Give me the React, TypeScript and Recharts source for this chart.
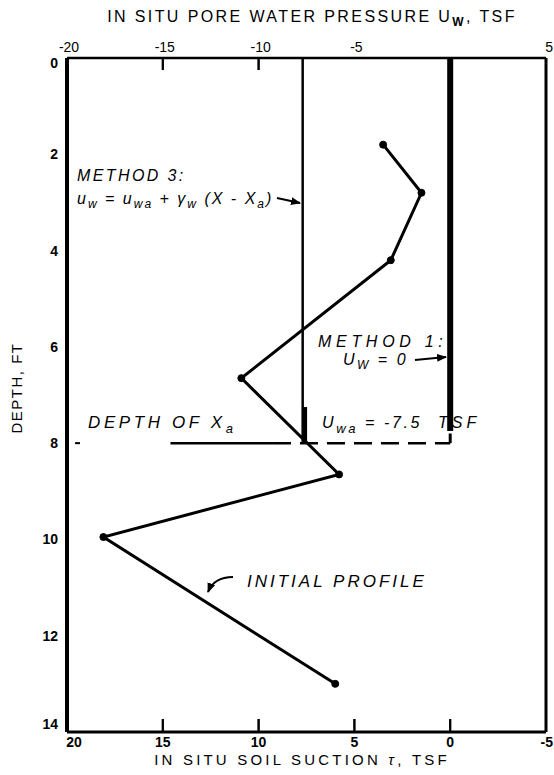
import React from 'react';
import { ComposedChart, Line, XAxis, YAxis, ReferenceLine } from 'recharts';

// ---- data ----
const depthFt = [1.8, 2.8, 4.2, 6.65, 8.65, 9.95, 13.0];
const suctionTsf = [3.5, 1.5, 3.1, 10.9, 5.8, 18.1, 6.0];
const suctionTicks = [20, 15, 10, 5, 0, -5];
const poreTicks = [-20, -15, -10, -5, 5];
const depthTicks = [0, 2, 4, 6, 8, 10, 12, 14];
const bottomInnerTickValues = [15, 10, 5, 0];
const topInnerTickValues = [-15, -10];
const method3Suction = 7.7; // u_wa = -7.5 tsf
const method3ThickSuction = 7.6;
const method1Suction = 0;
const depthXa = 8;
const method1Bottom = 7.75;
const method3ThickTop = 7.25;
const xaSolidFrom = 14.6;
const xaSolidTo = 9.25;

const data = depthFt.map((d, i) => ({ depth: d, suction: suctionTsf[i] }));

const FONT = '"Liberation Sans", Arial, Helvetica, sans-serif';

const BottomTick = (props: any) => {
  const { x, y, payload } = props;
  const v = Number(payload.value);
  const mark = bottomInnerTickValues.indexOf(v) >= 0 ? (
    <line x1={x} x2={x} y1={y - 1} y2={y - 13} stroke="#000" strokeWidth={2} />
  ) : null;
  if (v === -5) {
    return (
      <g>
        <text x={553} y={y + 15} textAnchor="end" fontFamily={FONT} fontSize={14} fontWeight="bold" fill="#000">
          {v}
        </text>
      </g>
    );
  }
  const dx = v === 20 ? 7 : 0;
  return (
    <g>
      {mark}
      <text x={x + dx} y={y + 15} textAnchor="middle" fontFamily={FONT} fontSize={14} fontWeight="bold" fill="#000">
        {v}
      </text>
    </g>
  );
};

const TopTick = (props: any) => {
  const { x, y, payload } = props;
  const v = Number(payload.value);
  const mark = topInnerTickValues.indexOf(v) >= 0 ? (
    <line x1={x} x2={x} y1={y + 1} y2={y + 12} stroke="#000" strokeWidth={2} />
  ) : null;
  if (v === 5) {
    return (
      <g>
        <text x={553} y={y - 6} textAnchor="end" fontFamily={FONT} fontSize={14} fill="#000">
          {v}
        </text>
      </g>
    );
  }
  return (
    <g>
      {mark}
      <text x={x + 2} y={y - 6} textAnchor="middle" fontFamily={FONT} fontSize={14} fill="#000">
        {v}
      </text>
    </g>
  );
};

const LeftTick = (props: any) => {
  const { x, y, payload } = props;
  const v = payload.value;
  const dy = v === 0 ? 5 : v === 14 ? -8 : 0;
  return (
    <text x={x - 9} y={y + dy + 5} textAnchor="end" fontFamily={FONT} fontSize={14} fontWeight="bold" fill="#000">
      {v}
    </text>
  );
};

const sub = { fontSize: 12 } as const;

export default function App() {
  const ann = { fontFamily: FONT, fontStyle: 'italic' as const, fill: '#000', whiteSpace: 'pre' as const };
  return (
    <div style={{ position: 'absolute', left: 0, top: 0, width: 554, height: 775, background: '#fff' }}>
      <svg width={554} height={775} style={{ position: 'absolute', left: 0, top: 0 }}>
        <defs>
          <marker id="ah" viewBox="0 0 10 10" refX="9" refY="5" markerWidth="5" markerHeight="5" orient="auto">
            <path d="M0,1 L10,5 L0,9 z" fill="#000" />
          </marker>
        </defs>
        {/* titles */}
        <text x={312} y={22} textAnchor="middle" fontFamily={FONT} fontSize={16} style={{ letterSpacing: '2.4px', whiteSpace: 'pre' }} fill="#000">
          IN SITU PORE WATER PRESSURE U<tspan fontSize={12} fontWeight="bold" dy={4}>W</tspan><tspan dy={-4}>, TSF</tspan>
        </text>
        <text x={302} y={765} textAnchor="middle" fontFamily={FONT} fontSize={15} style={{ letterSpacing: '3.2px', whiteSpace: 'pre' }} fill="#000">
          IN SITU SOIL SUCTION <tspan fontStyle="italic">τ</tspan>, TSF
        </text>
        <text x={0} y={0} transform="translate(22,388) rotate(-90)" textAnchor="middle" fontFamily={FONT} fontSize={15} style={{ letterSpacing: '1.5px' }} fill="#000">
          DEPTH, FT
        </text>

        {/* annotations */}
        <text x={77} y={181} fontSize={16} {...ann} style={{ letterSpacing: '2.4px' }}>METHOD 3:</text>
        <text x={77} y={204} fontSize={16} {...ann} style={{ letterSpacing: '2px', whiteSpace: 'pre' }}>
          u<tspan {...sub} dy={4}>w</tspan><tspan dy={-4}> = u</tspan><tspan {...sub} dy={4}>wa</tspan><tspan dy={-4}> + γ</tspan><tspan {...sub} dy={4}>w</tspan><tspan dy={-4}> (X - X</tspan><tspan {...sub} dy={4}>a</tspan><tspan dy={-4}>)</tspan>
        </text>
        <line x1={277} y1={198} x2={300} y2={203} stroke="#000" strokeWidth={2} markerEnd="url(#ah)" />

        <text x={318} y={347} fontSize={16} {...ann} style={{ letterSpacing: '4.7px' }}>METHOD 1:</text>
        <text x={343} y={365} fontSize={16} {...ann} style={{ letterSpacing: '2.5px', whiteSpace: 'pre' }}>
          U<tspan {...sub} dy={4}>W</tspan><tspan dy={-4}> = 0</tspan>
        </text>
        <line x1={415} y1={360} x2={446} y2={357} stroke="#000" strokeWidth={2} markerEnd="url(#ah)" />

        <text x={88} y={428} fontSize={17} {...ann} style={{ letterSpacing: '3.6px', whiteSpace: 'pre' }}>
          DEPTH OF X<tspan fontSize={13} dy={5}>a</tspan>
        </text>
        <text x={322} y={428} fontSize={16} {...ann} style={{ letterSpacing: '2.6px', whiteSpace: 'pre' }}>
          U<tspan fontSize={13} dy={5}>wa</tspan><tspan dy={-5}> = -7.5</tspan>
        </text>
        <text x={438} y={428} fontSize={16} {...ann} style={{ letterSpacing: '4px' }}>TSF</text>

        <text x={247} y={587} fontSize={17} {...ann} style={{ letterSpacing: '3px', whiteSpace: 'pre' }}>INITIAL PROFILE</text>
        <path d="M233,577 Q214,577 208,592" fill="none" stroke="#000" strokeWidth={2} markerEnd="url(#ah)" />
      </svg>

      <div style={{ position: 'absolute', left: 0, top: 0 }}>
        <ComposedChart width={554} height={775} layout="vertical" data={data} margin={{ top: 28, right: 8, bottom: 13, left: 27 }}>
          <XAxis
            xAxisId="b"
            type="number"
            orientation="bottom"
            dataKey="suction"
            domain={[-5, 20]}
            reversed
            ticks={suctionTicks}
            height={30}
            tickSize={0}
            tickMargin={0}
            tickLine={false}
            axisLine={{ stroke: '#000', strokeWidth: 3 }}
            tick={BottomTick}
            allowDataOverflow
          />
          <XAxis
            xAxisId="t"
            type="number"
            orientation="top"
            domain={[-20, 5]}
            ticks={poreTicks}
            height={30}
            tickSize={0}
            tickMargin={0}
            tickLine={false}
            axisLine={{ stroke: '#000', strokeWidth: 2.5 }}
            tick={TopTick}
            allowDataOverflow
          />
          <YAxis
            yAxisId="d"
            type="number"
            dataKey="depth"
            domain={[0, 14]}
            ticks={depthTicks}
            width={40}
            tickSize={0}
            tickMargin={0}
            tickLine={false}
            axisLine={{ stroke: '#000', strokeWidth: 4 }}
            tick={LeftTick}
            allowDataOverflow
          />
          {/* right border */}
          <ReferenceLine xAxisId="b" yAxisId="d" segment={[{ x: -5, y: 0 }, { x: -5, y: 14 }]} stroke="#000" strokeWidth={3} ifOverflow="visible" />
          <ReferenceLine xAxisId="b" yAxisId="d" segment={[{ x: 19.58, y: depthXa }, { x: 19.32, y: depthXa }]} stroke="#000" strokeWidth={2} ifOverflow="visible" />
          {/* inner ticks */}
          <ReferenceLine xAxisId="b" yAxisId="d" segment={[{ x: 15, y: 13.97 }, { x: 15, y: 13.73 }]} stroke="#000" strokeWidth={2} ifOverflow="visible" />
          <ReferenceLine xAxisId="b" yAxisId="d" segment={[{ x: 10, y: 13.97 }, { x: 10, y: 13.73 }]} stroke="#000" strokeWidth={2} ifOverflow="visible" />
          <ReferenceLine xAxisId="b" yAxisId="d" segment={[{ x: 5, y: 13.97 }, { x: 5, y: 13.73 }]} stroke="#000" strokeWidth={2} ifOverflow="visible" />
          <ReferenceLine xAxisId="b" yAxisId="d" segment={[{ x: 0, y: 13.97 }, { x: 0, y: 13.73 }]} stroke="#000" strokeWidth={2} ifOverflow="visible" />
          <ReferenceLine xAxisId="b" yAxisId="d" segment={[{ x: 15, y: 0.03 }, { x: 15, y: 0.25 }]} stroke="#000" strokeWidth={2} ifOverflow="visible" />
          <ReferenceLine xAxisId="b" yAxisId="d" segment={[{ x: 10, y: 0.03 }, { x: 10, y: 0.25 }]} stroke="#000" strokeWidth={2} ifOverflow="visible" />
          {/* method 3 */}
          <ReferenceLine xAxisId="b" yAxisId="d" segment={[{ x: method3Suction, y: 0 }, { x: method3Suction, y: depthXa }]} stroke="#000" strokeWidth={2.5} ifOverflow="visible" />
          <ReferenceLine xAxisId="b" yAxisId="d" segment={[{ x: method3ThickSuction, y: method3ThickTop }, { x: method3ThickSuction, y: depthXa }]} stroke="#000" strokeWidth={5} ifOverflow="visible" />
          {/* method 1 */}
          <ReferenceLine xAxisId="b" yAxisId="d" segment={[{ x: method1Suction, y: 0 }, { x: method1Suction, y: method1Bottom }]} stroke="#000" strokeWidth={6} ifOverflow="visible" />
          {/* depth of Xa */}
          <ReferenceLine xAxisId="b" yAxisId="d" segment={[{ x: xaSolidFrom, y: depthXa }, { x: xaSolidTo, y: depthXa }]} stroke="#000" strokeWidth={2.5} ifOverflow="visible" />
          <ReferenceLine xAxisId="b" yAxisId="d" segment={[{ x: xaSolidTo, y: depthXa }, { x: method1Suction, y: depthXa }]} stroke="#000" strokeWidth={2.5} strokeDasharray="18 9" ifOverflow="visible" />
          <ReferenceLine xAxisId="b" yAxisId="d" segment={[{ x: method1Suction, y: depthXa }, { x: method1Suction, y: 7.8 }]} stroke="#000" strokeWidth={3} ifOverflow="visible" />
          {/* initial profile */}
          <Line
            xAxisId="b"
            yAxisId="d"
            dataKey="suction"
            stroke="#000"
            strokeWidth={3}
            dot={{ r: 3.5, fill: '#000', stroke: '#000', strokeWidth: 1 }}
            isAnimationActive={false}
            type="linear"
          />
        </ComposedChart>
      </div>
    </div>
  );
}
